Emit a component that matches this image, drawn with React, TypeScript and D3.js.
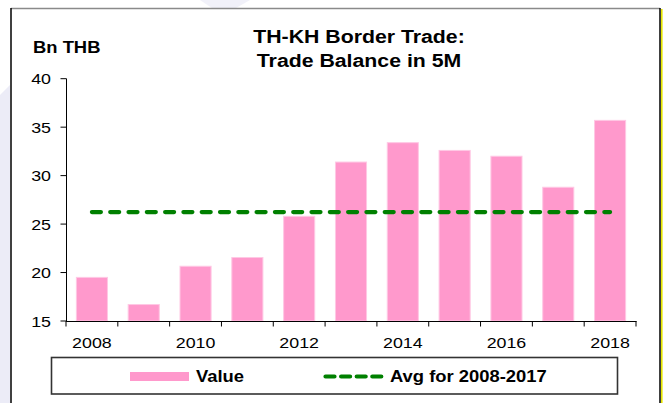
import React from "react";
import * as d3 from "d3";

const years = ["2008", "2009", "2010", "2011", "2012", "2013", "2014", "2015", "2016", "2017", "2018"];
const values = [19.5, 16.7, 20.65, 21.55, 25.8, 31.4, 33.4, 32.6, 32.0, 28.8, 35.7];
const yTicks = [15, 20, 25, 30, 35, 40];
const xLabelYears = ["2008", "2010", "2012", "2014", "2016", "2018"];
const avgYears = ["2008", "2009", "2010", "2011", "2012", "2013", "2014", "2015", "2016", "2017"];
const titleLines = ["TH-KH Border Trade:", "Trade Balance in 5M"];
const unitLabel = "Bn THB";
const legendValue = "Value";
const legendAvg = "Avg for 2008-2017";

const W = 667;
const H = 403;
const FONT = "'Liberation Sans', Arial, sans-serif";
const SX = 1.15;

function T(props: {
  x: number;
  y: number;
  size: number;
  anchor?: "start" | "middle" | "end";
  bold?: boolean;
  children: React.ReactNode;
}) {
  const { x, y, size, anchor = "start", bold = false, children } = props;
  return (
    <text
      transform={`translate(${x},${y}) scale(${SX},1)`}
      fontFamily={FONT}
      fontSize={size}
      fontWeight={bold ? "bold" : "normal"}
      textAnchor={anchor}
      fill="#000"
    >
      {children}
    </text>
  );
}

export default function App() {
  const x = d3
    .scaleBand<string>()
    .domain(years)
    .range([66, 636])
    .paddingInner(0.4)
    .paddingOuter(0.2);
  const y = d3.scaleLinear().domain([15, 40]).range([321, 78.7]);
  const step = x.step();
  const x0 = 66;
  const axisY = y(15);

  const avgVals = avgYears.map((yr) => values[years.indexOf(yr)]);
  const avg = d3.mean(avgVals) as number;
  const avgLine = d3.line<[number, number]>()([
    [x("2008")! + x.bandwidth() / 2, y(avg)],
    [x("2018")! + x.bandwidth() / 2, y(avg)],
  ]);

  const boundaries = d3.range(years.length + 1).map((i) => x0 + i * step);

  return (
    <div style={{ position: "absolute", left: 0, top: 0, width: W, height: H }}>
      <svg width={W} height={H} style={{ display: "block" }}>
        <rect x={0} y={0} width={W} height={H} fill="#ffffff" />
        <path d="M0,95 L10,85 L10,403 L0,403 Z" fill="#ececf7" />
        <path d="M200,0 L250,0 L236,8 L212,8 Z" fill="#f1f1f9" />
        {/* frame */}
        <rect x={11} y={8} width={649.5} height={400} fill="#ffffff" />
        <line x1={11} y1={8.5} x2={660} y2={8.5} stroke="#8a8a8a" strokeWidth={1.5} />
        <line x1={11} y1={8} x2={11} y2={403} stroke="#000" strokeWidth={1.5} />
        <line x1={660} y1={8} x2={660} y2={403} stroke="#000" strokeWidth={1.5} />
        <line x1={661.8} y1={9} x2={661.8} y2={403} stroke="#e6e600" strokeWidth={1.6} />

        {/* titles */}
        <T x={359} y={43} size={18.5} anchor="middle" bold>
          {titleLines[0]}
        </T>
        <T x={359} y={66.5} size={18.5} anchor="middle" bold>
          {titleLines[1]}
        </T>
        <T x={33} y={53} size={16} bold>
          {unitLabel}
        </T>

        {/* bars */}
        {years.map((yr, i) => (
          <rect
            key={yr}
            x={x(yr)}
            y={y(values[i])}
            width={x.bandwidth()}
            height={axisY - y(values[i])}
            fill="#ff99cc"
            stroke="#ffc8e4"
            strokeWidth={1}
          />
        ))}

        {/* y axis */}
        <line x1={66.5} y1={y(40)} x2={66.5} y2={axisY} stroke="#000" strokeWidth={1} />
        {yTicks.map((t) => (
          <g key={t}>
            <line x1={60.5} y1={y(t)} x2={66.5} y2={y(t)} stroke="#000" strokeWidth={1} />
            <T x={51} y={y(t) + 5.5} size={15.5} anchor="end">
              {t}
            </T>
          </g>
        ))}

        {/* x axis */}
        <line x1={66} y1={axisY + 0.5} x2={636.5} y2={axisY + 0.5} stroke="#000" strokeWidth={1} />
        {boundaries.map((bx, i) => (
          <line key={i} x1={bx} y1={axisY} x2={bx} y2={axisY + 5.5} stroke="#000" strokeWidth={1} />
        ))}
        {xLabelYears.map((yr) => (
          <T key={yr} x={x(yr)! + x.bandwidth() / 2} y={348} size={15.5} anchor="middle">
            {yr}
          </T>
        ))}

        {/* average line */}
        <path
          d={avgLine || ""}
          stroke="#008000"
          strokeWidth={4.2}
          strokeDasharray="9 9.3"
          strokeLinecap="round"
          fill="none"
        />

        {/* legend */}
        <rect x={51.5} y={357.5} width={566} height={36.5} fill="#ffffff" stroke="#333" strokeWidth={1.6} />
        <rect x={130} y={372} width={59} height={9} fill="#ff99cc" />
        <T x={196} y={381.5} size={16} bold>
          {legendValue}
        </T>
        <line
          x1={325.5}
          y1={376.5}
          x2={382.5}
          y2={376.5}
          stroke="#008000"
          strokeWidth={4.2}
          strokeDasharray="9 6.6"
          strokeLinecap="round"
        />
        <T x={390} y={381.5} size={16} bold>
          {legendAvg}
        </T>
      </svg>
    </div>
  );
}
